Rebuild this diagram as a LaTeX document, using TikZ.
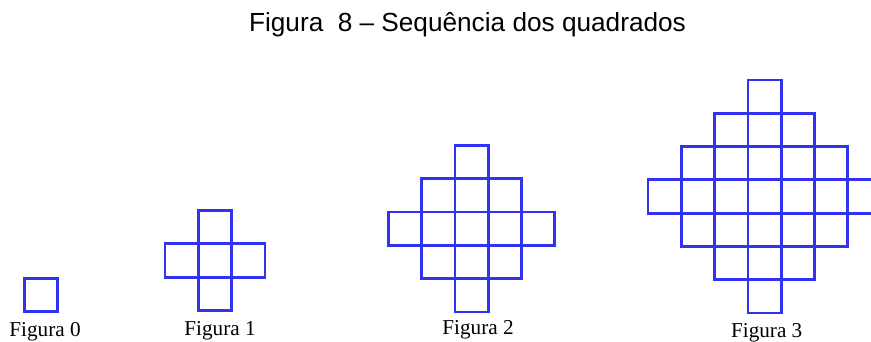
\documentclass[tikz,border=0pt]{standalone}
\usepackage{fontspec}
\setmainfont{Liberation Serif}
\newfontfamily\titlefont{Liberation Sans}
\definecolor{cellblue}{RGB}{50,50,245}
\tikzset{
  cell/.style={draw=cellblue, line width=2.8pt, line join=miter},
  figlabel/.style={font=\fontsize{21.2}{24}\selectfont, anchor=base, inner sep=0pt},
  titlestyle/.style={font=\titlefont\fontsize{26.2}{30}\selectfont, anchor=base, inner sep=0pt}
}
\newcommand\cellsize{33.3}
\newcommand\diamondfig[3]{%
  \foreach \k in {-#3,...,#3}{%
    \pgfmathtruncatemacro\mm{#3-abs(\k)}%
    \foreach \i in {-\mm,...,\mm}{%
      \draw[cell] ({#1+(\i-0.5)*\cellsize},{#2+(\k-0.5)*\cellsize}) rectangle ++(\cellsize,\cellsize);
    }}}
\begin{document}
\begin{tikzpicture}[x=1pt,y=-1pt]
  \useasboundingbox (0,0) rectangle (871,341);
  \clip (0,0) rectangle (871,341);
  \fill[white] (0,0) rectangle (871,341);
  \node[titlestyle] (title) at (467.5,31.7) {Figura\hspace{0.55em}8 – Sequência dos quadrados};
  % Figura 0
  \draw[cell] (24.5,278.2) rectangle ++(\cellsize,\cellsize);
  % Figura 1
  \diamondfig{215}{260.5}{1}
  % Figura 2
  \diamondfig{471.6}{228.7}{2}
  % Figura 3
  \diamondfig{764.6}{196.5}{3}
  \node[figlabel] (l0) at (45,336) {Figura 0};
  \node[figlabel] (l1) at (220,335) {Figura 1};
  \node[figlabel] (l2) at (478,334) {Figura 2};
  \node[figlabel] (l3) at (766.7,337) {Figura 3};
\end{tikzpicture}
\end{document}
